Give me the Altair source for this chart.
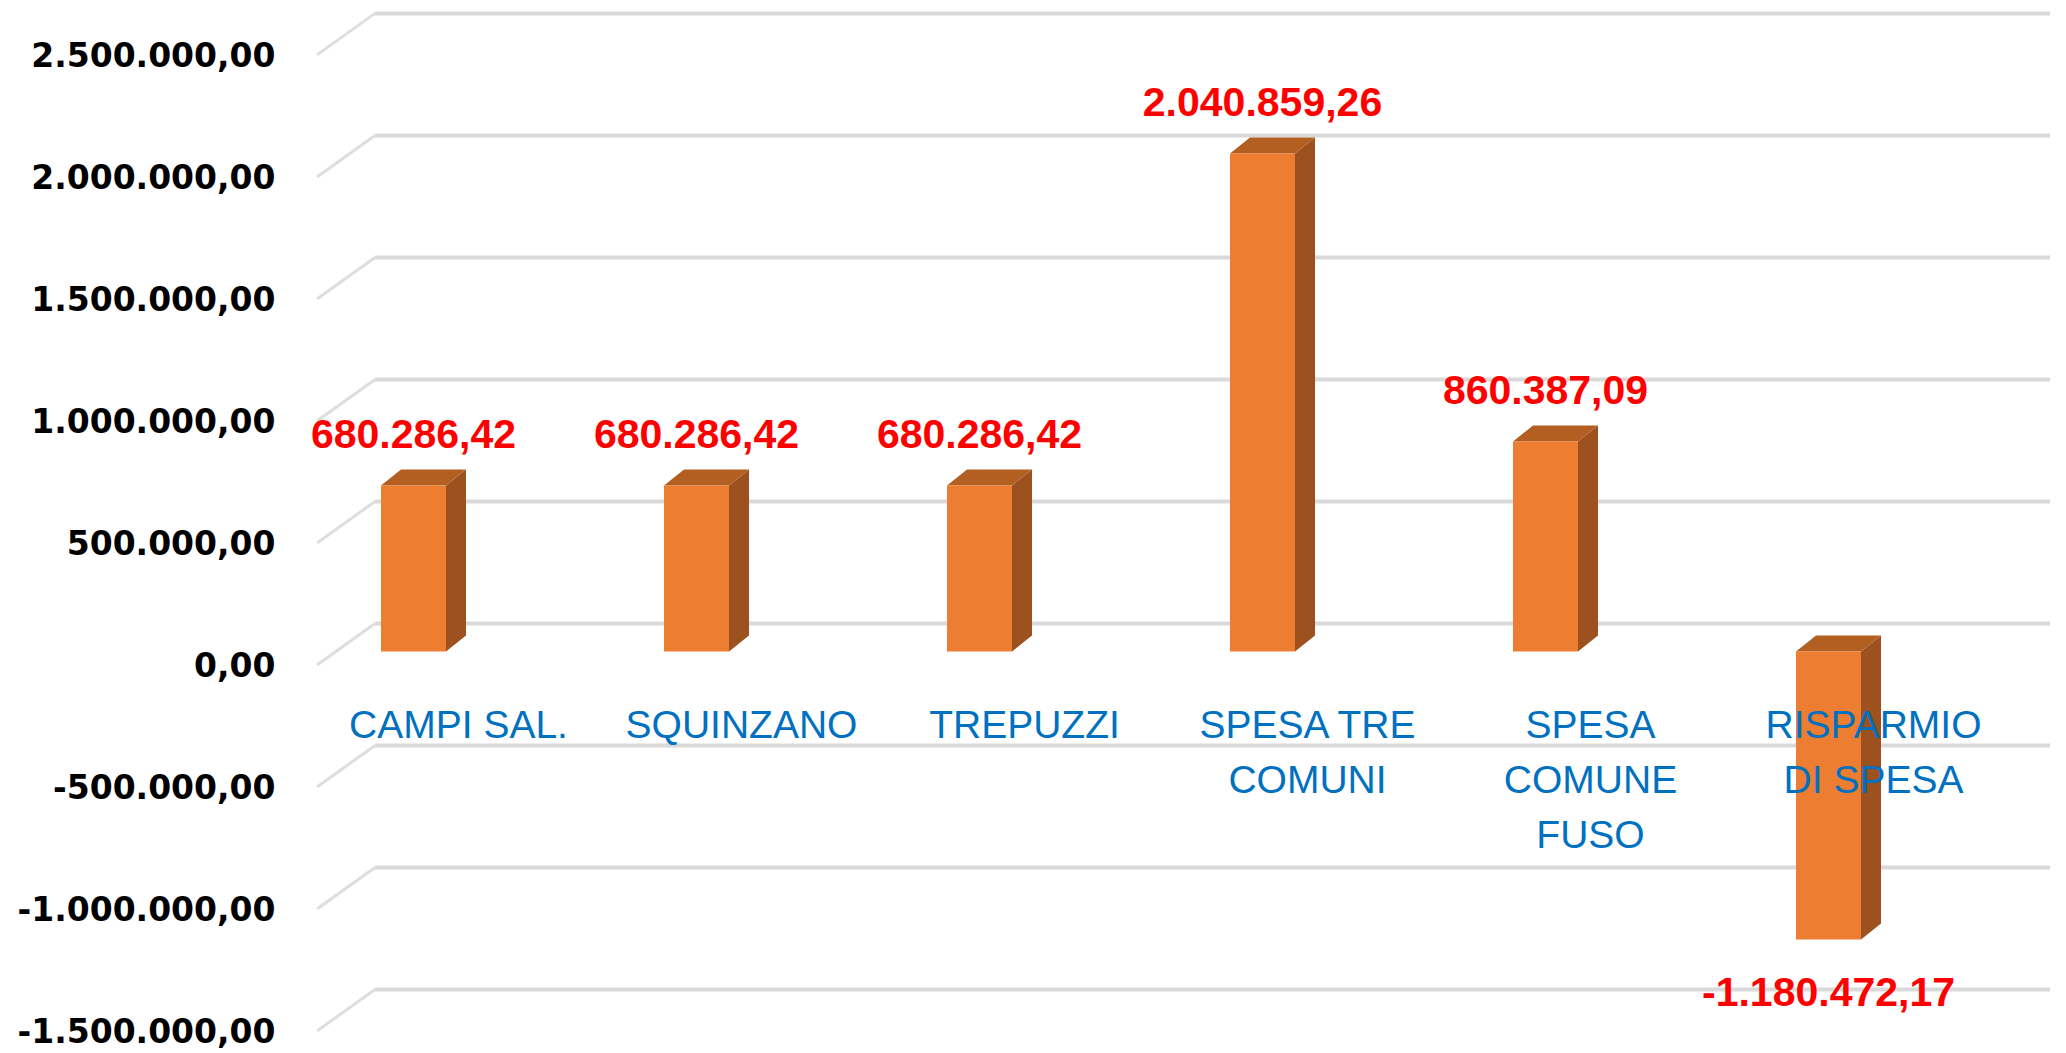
import altair as alt
import pandas as pd

# ---- data -------------------------------------------------------------
categories = ["CAMPI SAL.", "SQUINZANO", "TREPUZZI", "SPESA TRE\nCOMUNI",
              "SPESA\nCOMUNE\nFUSO", "RISPARMIO\nDI SPESA"]
values = [680286.42, 680286.42, 680286.42, 2040859.26, 860387.09, -1180472.17]
y_ticks = [2500000, 2000000, 1500000, 1000000, 500000, 0,
           -500000, -1000000, -1500000]


def it_fmt(v):
    s = f"{v:,.2f}"
    return s.replace(",", "#").replace(".", ",").replace("#", ".")


value_labels = [it_fmt(v) for v in values]
tick_labels = [it_fmt(v) for v in y_ticks]

# ---- geometry / style ------------------------------------------------
W, H = 1750, 1020
x_domain = [-0.4011, 5.7827]
y_domain = [-1580000, 2600000]
px_x = W / (x_domain[1] - x_domain[0])          # px per category unit
px_y = H / (y_domain[1] - y_domain[0])          # px per value unit
hw = 32.5 / px_x                                # half width of bar front
dx = 20 / px_x                                  # 3D depth (x)
dv = 16 / px_y                                  # 3D depth (y)

FRONT, SIDE, TOP = "#ED7D31", "#9C511E", "#B45F22"
GRID = "#D9D9D9"

xs = alt.Scale(domain=x_domain, nice=False, zero=False)
ys = alt.Scale(domain=y_domain, nice=False, zero=False)

bars = pd.DataFrame({
    "idx": list(range(len(categories))),
    "cat": categories,
    "v": values,
    "label": value_labels,
})
bars["base"] = 0.0
bars["x0"] = bars["idx"] - hw
bars["x1"] = bars["idx"] + hw

top_rows, side_rows = [], []
for i, v in enumerate(values):
    t = max(v, 0.0)
    b = min(v, 0.0)
    top_rows += [
        {"bar": i, "x": i - hw, "y": t, "y2": t},
        {"bar": i, "x": i - hw + dx, "y": t + dv, "y2": t},
        {"bar": i, "x": i + hw, "y": t + dv, "y2": t},
        {"bar": i, "x": i + hw + dx, "y": t + dv, "y2": t + dv},
    ]
    side_rows += [
        {"bar": i, "x": i + hw, "y": t, "y2": b},
        {"bar": i, "x": i + hw + dx, "y": t + dv, "y2": b + dv},
    ]
top_df = pd.DataFrame(top_rows)
side_df = pd.DataFrame(side_rows)

ticks_df = pd.DataFrame({"v": y_ticks, "lab": tick_labels})

label_expr = " : ".join(
    f"datum.value == {v} ? '{l}'" for v, l in zip(y_ticks, tick_labels)
) + " : ''"

y_axis = alt.Axis(values=y_ticks, labelExpr=label_expr, labelFont="DejaVu Sans",
                  labelFontSize=33, labelFontWeight="bold", labelColor="#000000",
                  labelPadding=25, labelOffset=15.5, labelLimit=0, domain=False,
                  ticks=False, grid=False, title=None)

grid_back = alt.Chart(ticks_df).mark_rule(
    color=GRID, strokeWidth=4, yOffset=-28
).encode(
    y=alt.Y("v:Q", scale=ys, axis=y_axis),
    x=alt.value(75), x2=alt.value(W),
)

grid_diag = alt.Chart(ticks_df).mark_rule(
    color="#DEDEDE", strokeWidth=3, yOffset=13.5, y2Offset=-28
).encode(
    y=alt.Y("v:Q", scale=ys), y2=alt.Y2("v:Q"),
    x=alt.value(17), x2=alt.value(75),
)

side = alt.Chart(side_df).mark_area(color=SIDE).encode(
    x=alt.X("x:Q", scale=xs, axis=None),
    y=alt.Y("y:Q", scale=ys), y2="y2:Q", detail="bar:N",
)

top = alt.Chart(top_df).mark_area(color=TOP).encode(
    x=alt.X("x:Q", scale=xs, axis=None),
    y=alt.Y("y:Q", scale=ys), y2="y2:Q", detail="bar:N",
)

front = alt.Chart(bars).mark_rect(color=FRONT).encode(
    x=alt.X("x0:Q", scale=xs, axis=None), x2="x1:Q",
    y=alt.Y("v:Q", scale=ys), y2="base:Q",
)

lab_style = dict(font="Liberation Sans", fontWeight="bold", fontSize=41,
                 color="#FF0000", baseline="middle", align="center")

val_pos = alt.Chart(bars).transform_filter("datum.v >= 0").mark_text(
    dy=-49, **lab_style
).encode(x=alt.X("idx:Q", scale=xs, axis=None), y=alt.Y("v:Q", scale=ys), text="label:N")

val_neg = alt.Chart(bars).transform_filter("datum.v < 0").mark_text(
    dy=54, **lab_style
).encode(x=alt.X("idx:Q", scale=xs, axis=None), y=alt.Y("v:Q", scale=ys), text="label:N")

cat_labels = alt.Chart(bars).mark_text(
    dx=45, dy=87, baseline="alphabetic", align="center", lineBreak="\n",
    lineHeight=55, font="Liberation Sans", fontSize=39, color="#0070C0"
).encode(x=alt.X("idx:Q", scale=xs, axis=None), y=alt.Y("base:Q", scale=ys), text="cat:N")

chart = alt.layer(
    grid_back, grid_diag, side, top, front, val_pos, val_neg, cat_labels
).properties(
    width=W, height=H,
    autosize=alt.AutoSizeParams(type="none"),
    padding={"left": 292, "top": 9, "right": 0, "bottom": 16},
).configure_view(stroke=None)

chart.save("out.html", embed_options={"renderer": "svg", "actions": False})
